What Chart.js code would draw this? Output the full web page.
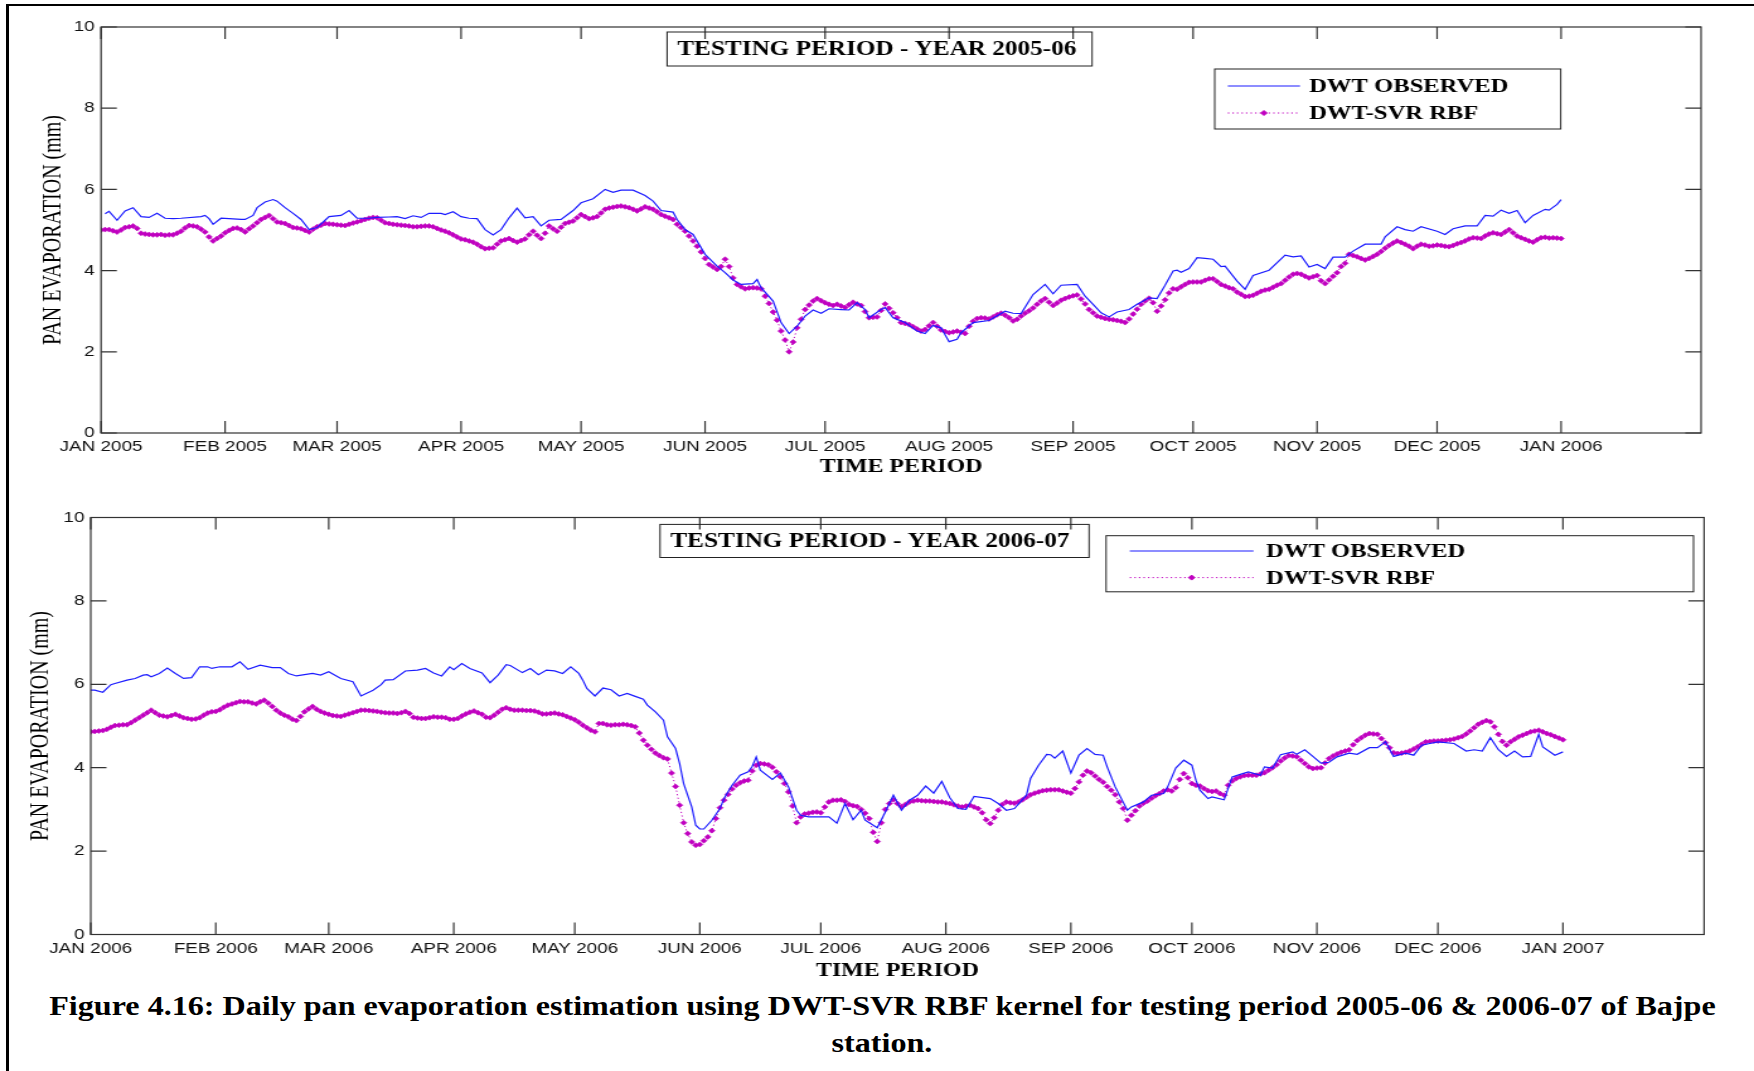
<!DOCTYPE html>
<html>
<head>
<meta charset="utf-8">
<script src="https://cdn.jsdelivr.net/npm/chart.js@4.4.0/dist/chart.umd.min.js"></script>
<style>
  html, body { margin: 0; padding: 0; background: #fff; }
  #page { position: relative; width: 1754px; height: 1071px; overflow: hidden; background: #fff; }
  .frame-top { position: absolute; left: 6px; top: 4px; width: 1748px; height: 0; border-top: 2px solid #000; }
  .frame-left { position: absolute; left: 6px; top: 4px; width: 0; height: 1067px; border-left: 3px solid #000; }
  canvas.fig { position: absolute; left: 0; }
  .caption { position: absolute; left: 5px; width: 1754px; text-align: center; line-height: 36px;
             font: bold 28px "Liberation Serif", "Times New Roman", serif; color: #000; white-space: nowrap; }
  .caption span { display: inline-block; transform-origin: center center; }
</style>
</head>
<body>
<div id="page">
  <div class="frame-top"></div>
  <div class="frame-left"></div>
  <!-- canvases are drawn narrow and widened by css, like the stretched figure -->
  <canvas id="chart0506" class="fig" width="1392" height="490" style="top:0px;width:1754px;height:490px"></canvas>
  <canvas id="chart0607" class="fig" width="1392" height="500" style="top:490px;width:1754px;height:500px"></canvas>
  <div class="caption" style="top:985px"><span id="capLine">Figure 4.16: Daily pan evaporation estimation using DWT-SVR RBF kernel for testing period 2005-06 &amp; 2006-07 of Bajpe</span></div>
  <div class="caption" style="top:1022px"><span>station.</span></div>
</div>
<script>
// day of year where each month starts (tick positions)
const monthDays = [0, 31, 59, 90, 120, 151, 181, 212, 243, 273, 304, 334, 365];
const monthLabels0506 = ["JAN 2005", "FEB 2005", "MAR 2005", "APR 2005", "MAY 2005", "JUN 2005", "JUL 2005",
  "AUG 2005", "SEP 2005", "OCT 2005", "NOV 2005", "DEC 2005", "JAN 2006"];
const monthLabels0607 = ["JAN 2006", "FEB 2006", "MAR 2006", "APR 2006", "MAY 2006", "JUN 2006", "JUL 2006",
  "AUG 2006", "SEP 2006", "OCT 2006", "NOV 2006", "DEC 2006", "JAN 2007"];
const yTicks = [0, 2, 4, 6, 8, 10];

// 2005-06 observed (DWT), day / value
const obsDay0506 = [1, 2, 4, 6, 8, 10, 12, 14, 16, 18, 20, 25, 26, 27, 28, 30, 32, 35, 36, 38, 39, 41, 43, 44, 46, 48, 50,
  52, 54, 56, 57, 60, 62, 64, 67, 69, 72, 74, 76, 78, 80, 82, 85, 86, 88, 90, 92, 94, 96, 98, 100, 102, 104, 106, 108,
  110, 112, 115, 118, 120, 123, 126, 128, 130, 133, 136, 138, 140, 143, 144, 146, 148, 151, 154, 156, 158, 160, 163,
  164, 165, 168, 170, 172, 174, 176, 178, 180, 182, 185, 187, 189, 191, 192, 195, 196, 198, 201, 204, 206, 208, 210,
  212, 214, 215, 218, 222, 226, 228, 230, 233, 236, 238, 240, 244, 246, 248, 250, 252, 254, 257, 259, 262, 264, 266,
  268, 269, 270, 272, 274, 276, 278, 280, 281, 284, 286, 288, 292, 296, 298, 300, 302, 304, 306, 308, 311, 313, 316,
  320, 321, 324, 326, 328, 330, 334, 336, 338, 341, 344, 346, 348, 350, 352, 354, 356, 358, 361, 362, 364, 365];
const obsVal0506 = [5.40, 5.46, 5.24, 5.47, 5.55, 5.33, 5.31, 5.41, 5.29, 5.28, 5.29, 5.33, 5.36, 5.28, 5.14, 5.29, 5.28,
  5.26, 5.26, 5.36, 5.55, 5.69, 5.75, 5.71, 5.55, 5.41, 5.26, 5.01, 5.06, 5.24, 5.33, 5.36, 5.48, 5.29, 5.29, 5.31, 5.32,
  5.33, 5.28, 5.35, 5.31, 5.41, 5.41, 5.38, 5.45, 5.33, 5.29, 5.28, 5.01, 4.88, 5.01, 5.30, 5.54, 5.30, 5.33, 5.10, 5.24,
  5.26, 5.48, 5.67, 5.77, 6.00, 5.93, 5.98, 5.98, 5.85, 5.71, 5.48, 5.44, 5.26, 5.01, 4.89, 4.40, 4.11, 3.95, 3.77, 3.66,
  3.68, 3.78, 3.58, 3.25, 2.72, 2.45, 2.63, 2.88, 3.03, 2.95, 3.06, 3.04, 3.03, 3.21, 3.04, 2.84, 3.04, 3.09, 2.84, 2.72,
  2.51, 2.45, 2.65, 2.59, 2.25, 2.31, 2.47, 2.72, 2.77, 3.00, 2.95, 2.94, 3.41, 3.66, 3.43, 3.64, 3.66, 3.37, 3.17, 2.96,
  2.86, 2.98, 3.04, 3.17, 3.33, 3.31, 3.64, 3.99, 4.01, 3.96, 4.05, 4.32, 4.30, 4.28, 4.10, 4.11, 3.74, 3.54, 3.88, 4.01,
  4.38, 4.34, 4.36, 4.09, 4.15, 4.05, 4.33, 4.33, 4.48, 4.65, 4.65, 4.83, 5.08, 5.01, 4.97, 5.08, 4.97, 4.89, 5.03, 5.10,
  5.10, 5.36, 5.34, 5.49, 5.41, 5.48, 5.18, 5.36, 5.51, 5.49, 5.63, 5.75];

// 2005-06 DWT-SVR RBF estimate, one value per day from 1 Jan 2005
const svr0506 = [
  5.00, 5.01, 5.01, 4.98, 4.95, 5.00, 5.06, 5.08, 5.10, 5.04,
  4.92, 4.90, 4.89, 4.88, 4.88, 4.89, 4.87, 4.88, 4.88, 4.92,
  4.97, 5.05, 5.11, 5.10, 5.08, 5.02, 4.95, 4.83, 4.73, 4.79,
  4.85, 4.93, 4.99, 5.04, 5.05, 5.01, 4.95, 5.03, 5.10, 5.18,
  5.26, 5.31, 5.36, 5.28, 5.20, 5.18, 5.16, 5.11, 5.06, 5.05,
  5.03, 4.99, 4.95, 5.02, 5.08, 5.12, 5.16, 5.15, 5.14, 5.13,
  5.12, 5.11, 5.14, 5.17, 5.20, 5.23, 5.26, 5.29, 5.31, 5.30,
  5.24, 5.18, 5.16, 5.14, 5.13, 5.12, 5.11, 5.10, 5.08, 5.08,
  5.09, 5.10, 5.10, 5.08, 5.04, 5.00, 4.97, 4.93, 4.88, 4.83,
  4.78, 4.76, 4.73, 4.70, 4.65, 4.59, 4.54, 4.55, 4.56, 4.65,
  4.73, 4.76, 4.79, 4.74, 4.70, 4.74, 4.78, 4.88, 4.97, 4.87,
  4.79, 4.92, 5.10, 5.03, 4.97, 5.07, 5.16, 5.19, 5.22, 5.30,
  5.38, 5.33, 5.28, 5.30, 5.33, 5.42, 5.51, 5.54, 5.56, 5.58,
  5.59, 5.57, 5.55, 5.51, 5.47, 5.52, 5.57, 5.54, 5.51, 5.45,
  5.38, 5.34, 5.30, 5.26, 5.14, 5.06, 4.97, 4.85, 4.73, 4.60,
  4.46, 4.30, 4.15, 4.09, 4.03, 4.10, 4.28, 4.10, 3.82, 3.66,
  3.60, 3.55, 3.57, 3.58, 3.57, 3.55, 3.37, 3.19, 2.98, 2.78,
  2.51, 2.29, 2.00, 2.24, 2.59, 2.80, 3.04, 3.15, 3.25, 3.31,
  3.26, 3.21, 3.17, 3.14, 3.17, 3.13, 3.09, 3.16, 3.22, 3.18,
  3.14, 2.99, 2.84, 2.85, 2.86, 3.02, 3.18, 3.07, 2.96, 2.84,
  2.72, 2.70, 2.67, 2.62, 2.56, 2.51, 2.55, 2.64, 2.72, 2.63,
  2.54, 2.50, 2.47, 2.49, 2.51, 2.48, 2.45, 2.63, 2.75, 2.82,
  2.84, 2.83, 2.81, 2.86, 2.91, 2.95, 2.90, 2.84, 2.76, 2.80,
  2.88, 2.95, 3.01, 3.08, 3.17, 3.25, 3.31, 3.22, 3.14, 3.20,
  3.27, 3.31, 3.35, 3.38, 3.40, 3.30, 3.18, 3.04, 2.96, 2.88,
  2.85, 2.82, 2.80, 2.79, 2.77, 2.75, 2.72, 2.81, 2.93, 3.05,
  3.17, 3.25, 3.32, 3.21, 3.00, 3.13, 3.28, 3.45, 3.55, 3.54,
  3.60, 3.66, 3.71, 3.72, 3.72, 3.72, 3.76, 3.80, 3.80, 3.73,
  3.66, 3.62, 3.58, 3.55, 3.47, 3.42, 3.36, 3.37, 3.39, 3.44,
  3.49, 3.52, 3.54, 3.59, 3.64, 3.68, 3.76, 3.84, 3.91, 3.93,
  3.91, 3.86, 3.82, 3.85, 3.88, 3.75, 3.68, 3.77, 3.86, 3.95,
  4.10, 4.18, 4.40, 4.37, 4.34, 4.30, 4.26, 4.30, 4.35, 4.40,
  4.47, 4.55, 4.62, 4.68, 4.73, 4.69, 4.65, 4.60, 4.54, 4.60,
  4.65, 4.63, 4.60, 4.61, 4.63, 4.62, 4.60, 4.59, 4.62, 4.66,
  4.69, 4.73, 4.78, 4.81, 4.80, 4.79, 4.85, 4.90, 4.93, 4.91,
  4.89, 4.95, 5.01, 4.93, 4.85, 4.81, 4.77, 4.73, 4.70, 4.76,
  4.81, 4.82, 4.80, 4.81, 4.80, 4.79];

// 2006-07 observed (DWT), day / value
const obsDay0607 = [0, 1, 3, 5, 6, 9, 11, 13, 14, 15, 17, 19, 21, 23, 25, 27, 29, 30, 32, 35, 37, 39, 42, 45, 47, 49, 51,
  55, 57, 59, 62, 65, 67, 70, 72, 73, 75, 78, 81, 83, 85, 87, 89, 90, 92, 94, 97, 99, 101, 103, 104, 107, 109, 111,
  113, 115, 117, 119, 121, 122, 123, 125, 127, 129, 131, 133, 135, 137, 138, 140, 142, 143, 145, 146, 147, 149, 150,
  151, 152, 154, 156, 157, 159, 161, 163, 164, 165, 166, 169, 171, 173, 175, 176, 178, 181, 183, 185, 187, 189, 191,
  192, 195, 197, 199, 201, 203, 205, 207, 209, 211, 213, 215, 217, 219, 223, 225, 227, 229, 232, 233, 235, 237, 238,
  239, 241, 243, 245, 247, 249, 251, 252, 254, 257, 258, 261, 263, 266, 267, 269, 271, 273, 274, 275, 277, 278, 281,
  283, 285, 287, 290, 291, 293, 295, 298, 299, 301, 303, 305, 307, 309, 312, 314, 317, 319, 321, 323, 326, 328, 330,
  332, 334, 338, 341, 343, 345, 347, 349, 351, 353, 355, 357, 359, 360, 363, 365];
const obsVal0607 = [5.86, 5.86, 5.81, 5.99, 6.02, 6.10, 6.14, 6.22, 6.23, 6.18, 6.26, 6.39, 6.26, 6.14, 6.16, 6.42, 6.42,
  6.38, 6.42, 6.42, 6.54, 6.36, 6.46, 6.40, 6.40, 6.26, 6.20, 6.26, 6.22, 6.30, 6.14, 6.06, 5.72, 5.86, 5.99, 6.10, 6.11,
  6.32, 6.34, 6.38, 6.27, 6.20, 6.42, 6.35, 6.50, 6.38, 6.27, 6.04, 6.22, 6.47, 6.45, 6.28, 6.38, 6.23, 6.34, 6.32, 6.26,
  6.42, 6.26, 6.10, 5.90, 5.72, 5.91, 5.87, 5.72, 5.78, 5.71, 5.64, 5.50, 5.34, 5.14, 4.74, 4.46, 4.10, 3.62, 3.06, 2.62,
  2.53, 2.53, 2.74, 3.02, 3.26, 3.58, 3.82, 3.90, 4.03, 4.26, 3.94, 3.72, 3.87, 3.54, 2.98, 2.86, 2.82, 2.82, 2.82, 2.67,
  3.14, 2.75, 2.98, 2.74, 2.56, 2.94, 3.34, 2.98, 3.22, 3.34, 3.56, 3.39, 3.67, 3.28, 3.02, 3.00, 3.31, 3.26, 3.14, 2.98,
  3.02, 3.34, 3.74, 4.06, 4.32, 4.31, 4.23, 4.40, 3.87, 4.30, 4.46, 4.32, 4.30, 4.02, 3.54, 2.98, 3.06, 3.18, 3.34, 3.38,
  3.54, 3.99, 4.18, 4.06, 3.70, 3.46, 3.26, 3.30, 3.23, 3.78, 3.84, 3.90, 3.82, 4.02, 3.99, 4.31, 4.38, 4.32, 4.43, 4.27,
  4.11, 4.13, 4.26, 4.35, 4.32, 4.48, 4.48, 4.62, 4.27, 4.35, 4.30, 4.54, 4.58, 4.62, 4.58, 4.40, 4.43, 4.40, 4.72, 4.43,
  4.27, 4.40, 4.26, 4.27, 4.80, 4.50, 4.30, 4.38];

// 2006-07 DWT-SVR RBF estimate, one value per day from 1 Jan 2006
const svr0607 = [
  4.86, 4.87, 4.88, 4.89, 4.92, 4.97, 5.01, 5.02, 5.03, 5.03,
  5.08, 5.14, 5.20, 5.26, 5.32, 5.38, 5.32, 5.26, 5.24, 5.22,
  5.25, 5.28, 5.24, 5.20, 5.18, 5.16, 5.17, 5.20, 5.26, 5.31,
  5.34, 5.35, 5.39, 5.45, 5.50, 5.53, 5.56, 5.59, 5.58, 5.58,
  5.55, 5.53, 5.58, 5.62, 5.55, 5.47, 5.38, 5.31, 5.26, 5.22,
  5.16, 5.13, 5.23, 5.34, 5.41, 5.47, 5.40, 5.35, 5.31, 5.28,
  5.25, 5.24, 5.23, 5.26, 5.29, 5.32, 5.35, 5.38, 5.38, 5.37,
  5.36, 5.35, 5.33, 5.32, 5.31, 5.31, 5.30, 5.32, 5.35, 5.30,
  5.21, 5.19, 5.18, 5.18, 5.20, 5.22, 5.21, 5.21, 5.20, 5.16,
  5.16, 5.18, 5.24, 5.29, 5.33, 5.36, 5.32, 5.28, 5.21, 5.20,
  5.26, 5.33, 5.40, 5.44, 5.40, 5.38, 5.38, 5.38, 5.37, 5.37,
  5.36, 5.33, 5.29, 5.29, 5.30, 5.31, 5.29, 5.27, 5.23, 5.19,
  5.15, 5.09, 5.02, 4.96, 4.90, 4.86, 5.06, 5.06, 5.03, 5.02,
  5.03, 5.03, 5.04, 5.03, 5.01, 4.98, 4.83, 4.66, 4.54, 4.44,
  4.35, 4.29, 4.24, 4.21, 3.87, 3.55, 3.10, 2.68, 2.42, 2.22,
  2.14, 2.16, 2.25, 2.34, 2.49, 2.78, 3.04, 3.22, 3.36, 3.49,
  3.58, 3.64, 3.68, 3.70, 3.92, 4.06, 4.10, 4.09, 4.07, 4.01,
  3.90, 3.78, 3.62, 3.42, 3.08, 2.68, 2.82, 2.89, 2.91, 2.93,
  2.94, 2.92, 3.06, 3.18, 3.22, 3.22, 3.23, 3.19, 3.12, 3.09,
  3.07, 3.00, 2.91, 2.78, 2.45, 2.23, 2.68, 3.00, 3.14, 3.23,
  3.14, 3.07, 3.12, 3.18, 3.20, 3.22, 3.21, 3.20, 3.20, 3.19,
  3.18, 3.18, 3.16, 3.14, 3.11, 3.08, 3.06, 3.08, 3.10, 3.06,
  3.02, 2.92, 2.75, 2.66, 2.80, 2.98, 3.12, 3.18, 3.16, 3.15,
  3.18, 3.23, 3.29, 3.35, 3.39, 3.42, 3.45, 3.46, 3.47, 3.47,
  3.47, 3.44, 3.41, 3.39, 3.50, 3.66, 3.82, 3.92, 3.88, 3.80,
  3.72, 3.65, 3.55, 3.46, 3.35, 3.18, 3.02, 2.74, 2.86, 2.97,
  3.08, 3.15, 3.20, 3.27, 3.33, 3.38, 3.44, 3.47, 3.44, 3.52,
  3.72, 3.86, 3.76, 3.62, 3.58, 3.56, 3.50, 3.45, 3.43, 3.44,
  3.38, 3.34, 3.58, 3.68, 3.74, 3.78, 3.81, 3.82, 3.82, 3.82,
  3.85, 3.88, 3.94, 4.00, 4.07, 4.16, 4.23, 4.29, 4.28, 4.26,
  4.18, 4.10, 4.02, 3.98, 3.99, 4.00, 4.11, 4.22, 4.28, 4.33,
  4.37, 4.40, 4.43, 4.55, 4.65, 4.72, 4.78, 4.82, 4.81, 4.80,
  4.70, 4.60, 4.48, 4.36, 4.34, 4.35, 4.37, 4.40, 4.45, 4.50,
  4.56, 4.62, 4.63, 4.64, 4.64, 4.65, 4.66, 4.67, 4.69, 4.72,
  4.75, 4.81, 4.88, 4.96, 5.04, 5.09, 5.13, 5.10, 4.98, 4.80,
  4.63, 4.54, 4.62, 4.68, 4.74, 4.78, 4.82, 4.86, 4.88, 4.90,
  4.86, 4.82, 4.79, 4.75, 4.71, 4.67];

const BLUE = "#1c1cff";
const MAGENTA = "#c000c0";

// matlab-like axes: box, inward ticks, axis titles, text box and legend
const figureDecor = {
  id: "figureDecor",
  afterDraw(chart, args, o) {
    const { ctx, chartArea: a } = chart;
    const xs = chart.scales.x;
    const ys = chart.scales.y;
    ctx.save();

    ctx.strokeStyle = "#333";
    ctx.lineWidth = 1.2;
    ctx.strokeRect(a.left, a.top, a.width, a.height);
    ctx.beginPath();
    xs.ticks.forEach(function (t) {
      const px = xs.getPixelForValue(t.value);
      ctx.moveTo(px, a.bottom); ctx.lineTo(px, a.bottom - o.tickX);
      ctx.moveTo(px, a.top); ctx.lineTo(px, a.top + o.tickX);
    });
    ys.ticks.forEach(function (t) {
      const py = ys.getPixelForValue(t.value);
      ctx.moveTo(a.left, py); ctx.lineTo(a.left + o.tickY, py);
      ctx.moveTo(a.right, py); ctx.lineTo(a.right - o.tickY, py);
    });
    ctx.stroke();

    ctx.fillStyle = "#000";
    // y axis title
    ctx.save();
    ctx.translate(o.yTitleX, (a.top + a.bottom) / 2);
    ctx.rotate(-Math.PI / 2);
    ctx.font = '20px "Liberation Serif", serif';
    ctx.textAlign = "center";
    ctx.textBaseline = "middle";
    ctx.fillText("PAN EVAPORATION (mm)", 0, 0);
    ctx.restore();

    // x axis title
    ctx.font = 'bold 19px "Liberation Serif", serif';
    ctx.textAlign = "center";
    ctx.textBaseline = "middle";
    ctx.fillText("TIME PERIOD", (a.left + a.right) / 2, o.xTitleY);

    // period text box
    const tb = o.titleBox;
    ctx.lineWidth = 1;
    ctx.strokeStyle = "#222";
    ctx.strokeRect(tb.x, tb.y, tb.w, tb.h);
    ctx.font = 'bold 20px "Liberation Serif", serif';
    ctx.textAlign = "left";
    ctx.fillText(tb.text, tb.textX, tb.y + tb.h / 2 + 1);

    // legend
    const lg = o.legend;
    const ds = chart.data.datasets;
    ctx.fillStyle = "#fff";
    ctx.fillRect(lg.x, lg.y, lg.w, lg.h);
    ctx.strokeRect(lg.x, lg.y, lg.w, lg.h);

    ctx.strokeStyle = ds[0].borderColor;
    ctx.lineWidth = ds[0].borderWidth;
    ctx.beginPath();
    ctx.moveTo(lg.lineX0, lg.row1); ctx.lineTo(lg.lineX1, lg.row1);
    ctx.stroke();

    ctx.strokeStyle = ds[1].borderColor;
    ctx.lineWidth = ds[1].borderWidth;
    ctx.setLineDash(ds[1].borderDash);
    ctx.beginPath();
    ctx.moveTo(lg.lineX0, lg.row2); ctx.lineTo(lg.lineX1, lg.row2);
    ctx.stroke();
    ctx.setLineDash([]);
    Chart.helpers.drawPoint(ctx, {
      pointStyle: "rectRot", radius: ds[1].pointRadius, borderWidth: ds[1].pointBorderWidth, rotation: 0
    }, (lg.lineX0 + lg.lineX1) / 2, lg.row2);
    ctx.fillStyle = ds[1].pointBackgroundColor;
    ctx.fill();

    ctx.fillStyle = "#000";
    ctx.font = 'bold 19.5px "Liberation Serif", serif';
    ctx.textAlign = "left";
    ctx.textBaseline = "middle";
    ctx.fillText(ds[0].label, lg.textX, lg.row1 + 1);
    ctx.fillText(ds[1].label, lg.textX, lg.row2 + 1);
    ctx.restore();
  }
};

function makePoints(days, vals) {
  return days.map(function (d, i) { return { x: d, y: vals[i] }; });
}

function dailyPoints(vals) {
  return vals.map(function (v, i) { return { x: i, y: v }; });
}

function drawPanel(canvasId, obsDays, obsVals, svrVals, labels, layout) {
  return new Chart(document.getElementById(canvasId), {
    type: "line",
    data: {
      datasets: [
        {
          label: "DWT OBSERVED",
          data: makePoints(obsDays, obsVals),
          borderColor: BLUE,
          borderWidth: 1.2,
          pointRadius: 0,
          tension: 0,
        },
        {
          label: "DWT-SVR RBF",
          data: dailyPoints(svrVals),
          borderColor: MAGENTA,
          borderWidth: 1,
          borderDash: [1.2, 2.4],
          pointStyle: "rectRot",
          pointRadius: 2.5,
          pointBorderWidth: 0.6,
          pointBackgroundColor: MAGENTA,
          pointBorderColor: MAGENTA,
          tension: 0,
        },
      ],
    },
    options: {
      responsive: false,
      animation: false,
      events: [],
      layout: { padding: layout.padding },
      plugins: {
        legend: { display: false },
        tooltip: { enabled: false },
        figureDecor: layout.decor,
      },
      scales: {
        x: {
          type: "linear",
          min: 0,
          max: 400,
          grid: { display: false, drawTicks: false },
          border: { display: false },
          afterBuildTicks: function (scale) {
            scale.ticks = monthDays.map(function (d) { return { value: d }; });
          },
          afterFit: function (scale) { scale.height = 40; },
          ticks: {
            autoSkip: false,
            maxRotation: 0,
            minRotation: 0,
            padding: 5,
            color: "#111",
            font: { family: '"Liberation Sans", Arial, sans-serif', size: 15 },
            callback: function (value, index) { return labels[index]; },
          },
        },
        y: {
          min: 0,
          max: 10,
          grid: { display: false, drawTicks: false },
          border: { display: false },
          afterBuildTicks: function (scale) {
            scale.ticks = yTicks.map(function (v) { return { value: v }; });
          },
          afterFit: function (scale) { scale.width = layout.yWidth; },
          ticks: {
            padding: 5,
            color: "#111",
            font: { family: '"Liberation Sans", Arial, sans-serif', size: 15 },
          },
        },
      },
    },
    plugins: [figureDecor],
  });
}

drawPanel("chart0506", obsDay0506, obsVal0506, svr0506, monthLabels0506, {
  yWidth: 80.2,
  padding: { left: 0, right: 42, top: 27, bottom: 17 },
  decor: {
    tickX: 12, tickY: 12.5, yTitleX: 43, xTitleY: 467,
    titleBox: { x: 529.4, y: 32, w: 337.3, h: 34, textX: 537.5, text: "TESTING PERIOD - YEAR 2005-06" },
    legend: { x: 964, y: 69, w: 274.6, h: 60, row1: 86, row2: 113,
              lineX0: 974.4, lineX1: 1031.7, textX: 1039 },
  },
});

drawPanel("chart0607", obsDay0607, obsVal0607, svr0607, monthLabels0607, {
  yWidth: 72,
  padding: { left: 0, right: 39.6, top: 27.5, bottom: 15.5 },
  decor: {
    tickX: 12, tickY: 12.5, yTitleX: 33, xTitleY: 481,
    titleBox: { x: 523.8, y: 34.4, w: 340.5, h: 33.1, textX: 532, text: "TESTING PERIOD - YEAR 2006-07" },
    legend: { x: 877.8, y: 45.7, w: 466.2, h: 56.1, row1: 61, row2: 87.6,
              lineX0: 896.6, lineX1: 994.8, textX: 1004.8 },
  },
});

// fit the first caption line to the page text width
const capLine = document.getElementById("capLine");
const capScale = 1666 / capLine.getBoundingClientRect().width;
capLine.style.transform = "scaleX(" + capScale.toFixed(3) + ")";
capLine.parentNode.nextElementSibling.firstElementChild.style.transform = "scaleX(" + capScale.toFixed(3) + ")";
capLine.parentNode.style.top = "990px";
capLine.parentNode.nextElementSibling.style.top = "1027px";
</script>
</body>
</html>
